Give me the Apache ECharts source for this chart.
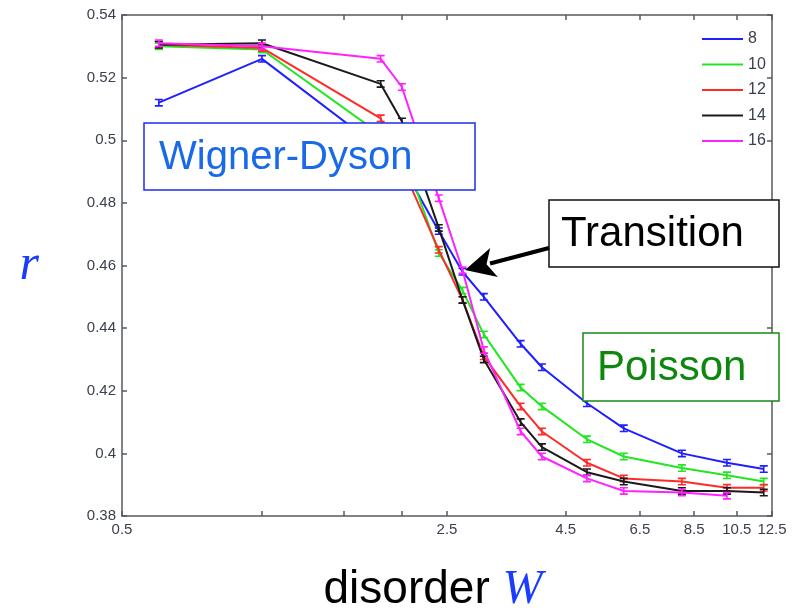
<!DOCTYPE html>
<html>
<head>
<meta charset="utf-8">
<script src="https://cdn.jsdelivr.net/npm/echarts@6/dist/echarts.min.js"></script>
<style>
  html, body { margin: 0; padding: 0; background: #ffffff; }
  #chart { width: 803px; height: 616px; }
</style>
</head>
<body>
<div id="chart"></div>
<script>
// ---- data ----
const seriesNames = ['8', '10', '12', '14', '16'];

const W_L8  = [0.6, 1, 2, 2.4, 2.7, 3, 3.6, 4, 5, 6, 8, 10, 12];
const r_L8  = [0.512, 0.526, 0.492, 0.471, 0.458, 0.450, 0.435, 0.4275, 0.416, 0.408, 0.400, 0.397, 0.395];

const W_L10 = [0.6, 1, 2, 2.4, 2.7, 3, 3.6, 4, 5, 6, 8, 10, 12];
const r_L10 = [0.530, 0.529, 0.497, 0.464, 0.452, 0.438, 0.421, 0.415, 0.4045, 0.399, 0.3953, 0.393, 0.391];

const W_L12 = [0.6, 1, 1.8, 2.4, 2.7, 3, 3.6, 4, 5, 6, 8, 10, 12];
const r_L12 = [0.5305, 0.5295, 0.507, 0.465, 0.449, 0.431, 0.415, 0.407, 0.397, 0.392, 0.391, 0.389, 0.389];

const W_L14 = [0.6, 1, 1.8, 2, 2.4, 2.7, 3, 3.6, 4, 5, 6, 8, 10, 12];
const r_L14 = [0.5305, 0.531, 0.518, 0.506, 0.472, 0.449, 0.430, 0.410, 0.402, 0.394, 0.391, 0.388, 0.388, 0.3875];

const W_L16 = [0.6, 1, 1.8, 2, 2.4, 2.7, 3, 3.6, 4, 5, 6, 8, 10];
const r_L16 = [0.531, 0.530, 0.526, 0.517, 0.4815, 0.4585, 0.433, 0.407, 0.399, 0.392, 0.388, 0.3875, 0.3865];

const xTickValues  = [0.5, 1, 1.5, 2, 2.5, 4.5, 6.5, 8.5, 10.5, 12.5];
const xLabelValues = [0.5, 2.5, 4.5, 6.5, 8.5, 10.5, 12.5];
const yMin = 0.38, yMax = 0.54, yStep = 0.02;
const xMin = 0.5, xMax = 12.5;

// ---- styling ----
const colors = ['#1f1fff', '#22e622', '#ff2a2a', '#1a1a1a', '#ff22ff'];
const axisColor = '#555a60';
const labelColor = '#3a4050';
const labelFont = { fontFamily: 'Liberation Sans', fontSize: 15, color: labelColor };
const errSymbol = 'path://M0,0H8V1.6H4.8V6.4H8V8H0V6.4H3.2V1.6H0Z';

const zip = (xs, ys) => xs.map((x, i) => [x, ys[i]]);
const seriesData = [zip(W_L8, r_L8), zip(W_L10, r_L10), zip(W_L12, r_L12), zip(W_L14, r_L14), zip(W_L16, r_L16)];

const lg = v => Math.log10(v);
const fmtW = v => String(Math.round(Math.pow(10, v) * 10) / 10);

const chart = echarts.init(document.getElementById('chart'), null, { renderer: 'canvas' });

const axisLineStyle = { show: true, onZero: false, lineStyle: { color: axisColor, width: 1.5 } };

const option = {
  backgroundColor: '#ffffff',
  animation: false,
  grid: { left: 122, right: 31, top: 15, bottom: 100, containLabel: false, outerBoundsMode: 'none' },
  legend: {
    data: seriesNames,
    orient: 'vertical',
    left: 697,
    top: 26,
    icon: 'rect',
    itemWidth: 41,
    itemHeight: 2,
    itemGap: 9.5,
    textStyle: { fontFamily: 'Liberation Sans', fontSize: 16, color: labelColor, lineHeight: 16 }
  },
  xAxis: [
    {
      type: 'log', logBase: 10, min: xMin, max: xMax, position: 'bottom',
      axisLine: axisLineStyle,
      axisTick: { show: false }, axisLabel: { show: false },
      splitLine: { show: false }, minorTick: { show: false },
      name: 'disorder {w|W}',
      nameLocation: 'middle',
      nameGap: 50,
      nameTextStyle: {
        fontFamily: 'Liberation Sans', fontSize: 46, color: '#000000',
        padding: [0, 28, 0, 0],
        rich: { w: { fontFamily: 'Liberation Serif', fontStyle: 'italic', fontSize: 48, color: '#1a3cff' } }
      }
    },
    {
      type: 'value', min: lg(xMin), max: lg(xMax), position: 'bottom',
      axisLine: { show: false, onZero: false },
      axisTick: { show: true, inside: true, length: 5, lineStyle: { color: axisColor, width: 1.5 },
                  customValues: xTickValues.map(lg) },
      axisLabel: Object.assign({ show: true, margin: 6, customValues: xLabelValues.map(lg), formatter: fmtW }, labelFont),
      splitLine: { show: false }
    },
    {
      type: 'value', min: lg(xMin), max: lg(xMax), position: 'top',
      axisLine: axisLineStyle,
      axisTick: { show: true, inside: true, length: 5, lineStyle: { color: axisColor, width: 1.5 },
                  customValues: xTickValues.map(lg) },
      axisLabel: { show: false },
      splitLine: { show: false }
    }
  ],
  yAxis: [
    {
      type: 'value', min: yMin, max: yMax, interval: yStep, position: 'left',
      axisLine: axisLineStyle,
      axisTick: { show: true, inside: true, length: 5, lineStyle: { color: axisColor, width: 1.5 } },
      axisLabel: Object.assign({ margin: 6 }, labelFont),
      splitLine: { show: false },
      name: 'r',
      nameLocation: 'middle',
      nameRotate: 0,
      nameGap: 83,
      nameTextStyle: { fontFamily: 'Liberation Serif', fontStyle: 'italic', fontSize: 50, color: '#1a3cff',
                       padding: [10, 0, 0, 0] }
    },
    {
      type: 'value', min: yMin, max: yMax, interval: yStep, position: 'right',
      axisLine: axisLineStyle,
      axisTick: { show: true, inside: true, length: 5, lineStyle: { color: axisColor, width: 1.5 } },
      axisLabel: { show: false },
      splitLine: { show: false }
    }
  ],
  series: seriesNames.map((name, i) => ({
    name: name,
    type: 'line',
    xAxisIndex: 0,
    yAxisIndex: 0,
    data: seriesData[i],
    color: colors[i],
    lineStyle: { width: 2, color: colors[i] },
    symbol: errSymbol,
    symbolSize: [8, 8],
    showSymbol: true,
    itemStyle: { color: colors[i] },
    z: 2 + i
  })),
  graphic: [
    { type: 'rect', z: 100, shape: { x: 144, y: 123, width: 331, height: 67 },
      style: { fill: '#ffffff', stroke: '#1a2cf0', lineWidth: 1.5 } },
    { type: 'text', z: 101, x: 159, y: 158,
      style: { text: 'Wigner-Dyson', font: '40px "Liberation Sans"', fill: '#1a6ae8', verticalAlign: 'middle' } },

    { type: 'rect', z: 100, shape: { x: 549, y: 200, width: 230, height: 67 },
      style: { fill: '#ffffff', stroke: '#111111', lineWidth: 1.5 } },
    { type: 'text', z: 101, x: 561, y: 234,
      style: { text: 'Transition', font: '42px "Liberation Sans"', fill: '#000000', verticalAlign: 'middle' } },

    { type: 'rect', z: 100, shape: { x: 583, y: 333, width: 196, height: 68 },
      style: { fill: '#ffffff', stroke: '#148a14', lineWidth: 1.5 } },
    { type: 'text', z: 101, x: 597, y: 368,
      style: { text: 'Poisson', font: '42px "Liberation Sans"', fill: '#0e870e', verticalAlign: 'middle' } },

    { type: 'line', z: 100, shape: { x1: 549, y1: 248, x2: 490, y2: 263.5 },
      style: { stroke: '#000000', lineWidth: 4 } },
    { type: 'polygon', z: 100,
      shape: { points: [[465, 270], [490.2, 247.9], [486.5, 264.3], [497.8, 276.9]] },
      style: { fill: '#000000' } }
  ]
};

chart.setOption(option);
</script>
</body>
</html>
